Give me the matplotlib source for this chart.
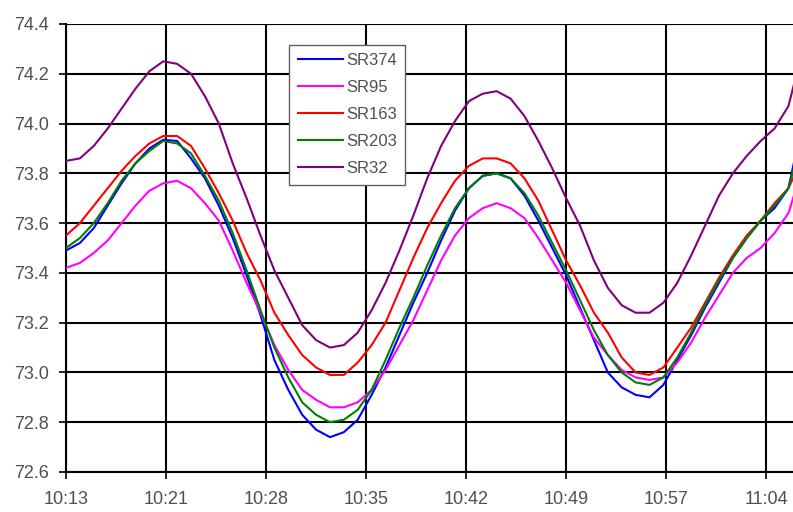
import matplotlib
matplotlib.use("Agg")
import matplotlib.pyplot as plt

plt.rcParams['font.family'] = ['Liberation Sans', 'DejaVu Sans']

# minutes after the first tick (10:13)
minutes = list(range(0, 53)) + [52.5]

sr374 = [73.49, 73.52, 73.58, 73.67, 73.76, 73.84, 73.90, 73.935, 73.93, 73.86,
         73.78, 73.67, 73.54, 73.39, 73.23, 73.05, 72.93, 72.83, 72.77, 72.74,
         72.76, 72.81, 72.91, 73.02, 73.15, 73.28, 73.40, 73.53, 73.65, 73.74,
         73.79, 73.80, 73.78, 73.71, 73.61, 73.50, 73.39, 73.26, 73.13, 73.00,
         72.94, 72.91, 72.90, 72.95, 73.05, 73.15, 73.26, 73.36, 73.46, 73.54,
         73.61, 73.66, 73.74, 73.87]
sr95 = [73.42, 73.44, 73.48, 73.53, 73.60, 73.67, 73.73, 73.76, 73.77, 73.74,
        73.68, 73.61, 73.49, 73.36, 73.24, 73.11, 73.01, 72.93, 72.89, 72.86,
        72.86, 72.88, 72.93, 73.01, 73.11, 73.21, 73.33, 73.45, 73.55, 73.62,
        73.66, 73.68, 73.66, 73.62, 73.54, 73.45, 73.36, 73.25, 73.14, 73.07,
        73.01, 72.98, 72.97, 72.98, 73.04, 73.12, 73.22, 73.31, 73.40, 73.46,
        73.50, 73.56, 73.64, 73.73]
sr163 = [73.55, 73.60, 73.67, 73.74, 73.81, 73.87, 73.92, 73.95, 73.95, 73.91,
         73.82, 73.72, 73.61, 73.48, 73.37, 73.24, 73.15, 73.07, 73.02, 72.99,
         72.99, 73.04, 73.11, 73.20, 73.33, 73.46, 73.58, 73.68, 73.77, 73.83,
         73.86, 73.86, 73.84, 73.78, 73.69, 73.57, 73.45, 73.35, 73.24, 73.16,
         73.06, 73.00, 72.99, 73.02, 73.10, 73.18, 73.28, 73.38, 73.47, 73.55,
         73.61, 73.68, 73.74, 73.80]
sr203 = [73.50, 73.54, 73.60, 73.68, 73.77, 73.84, 73.89, 73.93, 73.92, 73.88,
         73.79, 73.69, 73.56, 73.41, 73.25, 73.10, 72.98, 72.88, 72.83, 72.80,
         72.81, 72.85, 72.93, 73.05, 73.18, 73.30, 73.43, 73.55, 73.66, 73.74,
         73.79, 73.80, 73.78, 73.72, 73.63, 73.52, 73.41, 73.29, 73.17, 73.07,
         73.00, 72.96, 72.95, 72.98, 73.06, 73.16, 73.27, 73.37, 73.46, 73.54,
         73.61, 73.67, 73.74, 73.84]
sr32 = [73.85, 73.86, 73.91, 73.98, 74.06, 74.14, 74.21, 74.25, 74.24, 74.20,
        74.11, 74.00, 73.84, 73.70, 73.55, 73.41, 73.30, 73.19, 73.13, 73.10,
        73.11, 73.16, 73.25, 73.36, 73.49, 73.63, 73.78, 73.91, 74.01, 74.09,
        74.12, 74.13, 74.10, 74.03, 73.93, 73.82, 73.70, 73.59, 73.45, 73.34,
        73.27, 73.24, 73.24, 73.28, 73.36, 73.47, 73.59, 73.71, 73.80, 73.87,
        73.93, 73.98, 74.07, 74.18]

series_names = ["SR374", "SR95", "SR163", "SR203", "SR32"]
series_colors = ["#0000FF", "#FF00FF", "#FF0000", "#008000", "#800080"]
series_values = [sr374, sr95, sr163, sr203, sr32]

tick_labels = ["10:13", "10:21", "10:28", "10:35", "10:42", "10:49", "10:57", "11:04"]
tick_step = 7.2
y_ticks = [72.6, 72.8, 73.0, 73.2, 73.4, 73.6, 73.8, 74.0, 74.2, 74.4]

fig = plt.figure(figsize=(7.93, 5.12), dpi=100)
ax = fig.add_axes([66 / 793, 1 - 472 / 512, 1 - 66 / 793 + 0.01, (472 - 24) / 512])

for name, color, vals in zip(series_names, series_colors, series_values):
    ax.plot(minutes, vals, color=color, lw=1.5, label=name, zorder=3,
            solid_joinstyle="round")

xt = [i * tick_step for i in range(len(tick_labels))]
ax.set_xticks(xt)
ax.set_xticklabels(tick_labels)
ax.set_yticks(y_ticks)
ax.set_yticklabels([f"{v:.1f}" for v in y_ticks])
ax.set_xlim(0, 52.9)
ax.set_ylim(72.6, 74.4)

ax.grid(True, color="black", lw=1.5, zorder=1)
ax.set_axisbelow(True)
for s in ["top", "right"]:
    ax.spines[s].set_visible(False)
for s in ["left", "bottom"]:
    ax.spines[s].set_color("black")
    ax.spines[s].set_linewidth(1.5)

ax.tick_params(axis="both", direction="out", length=5, width=1.2, colors="black",
               labelcolor="#505050", labelsize=13)
ax.tick_params(axis="x", pad=9)
ax.tick_params(axis="y", pad=7)

leg = ax.legend(loc="upper left", bbox_to_anchor=((287 - 66) / 727, 1 - (45 - 24) / 448),
                frameon=True, fancybox=False, fontsize=12, labelcolor="#505050",
                handlelength=2.7, handletextpad=0.2, borderpad=0.5, labelspacing=0.72,
                borderaxespad=0)
leg.get_frame().set_edgecolor("#606060")
leg.get_frame().set_linewidth(1.0)
leg.get_frame().set_alpha(1.0)

fig.savefig("out.png", dpi=100)
